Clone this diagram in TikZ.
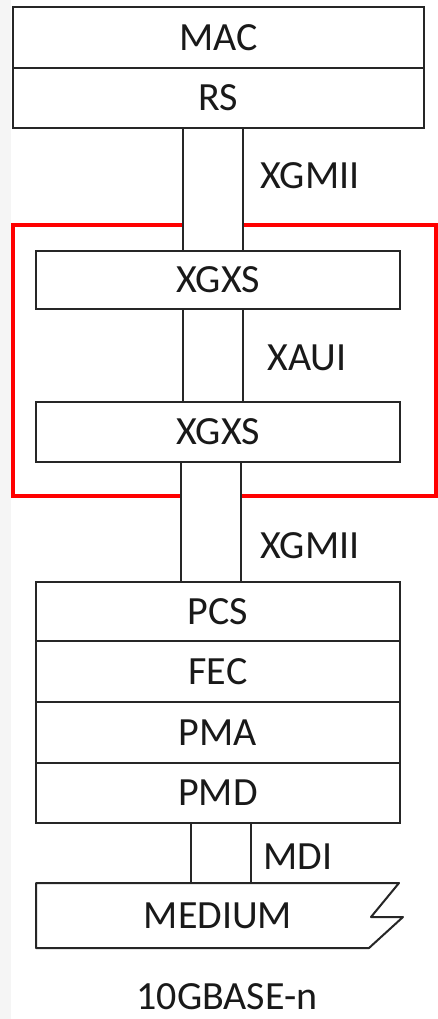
\documentclass[tikz,border=0pt]{standalone}
\usepackage{fontspec}
\setmainfont{Carlito}
\begin{document}
\begin{tikzpicture}[x=1pt,y=-1pt,
  layer/.style={draw=black!85,line width=2pt,fill=white,rectangle,inner sep=0pt,
    font=\fontsize{40}{42}\selectfont,text=black!90},
  lbl/.style={inner sep=0pt,font=\fontsize{40}{42}\selectfont,text=black!90},
  busline/.style={draw=black!85,line width=2pt},
  redbox/.style={draw=red,line width=3.5pt}]
\useasboundingbox (0,0) rectangle (438,1019);
\fill[white] (0,0) rectangle (438,1019);
\fill[black!4] (0,0) rectangle (11,1019);
% red XGXS group
\draw[redbox] (13,225) rectangle (436,496);
% layers
\node[layer,minimum width=411pt,minimum height=61pt] (mac) at (218.5,37.5) {MAC};
\node[layer,minimum width=411pt,minimum height=60pt] (rs) at (218.5,98) {RS};
\node[layer,minimum width=364pt,minimum height=58pt] (x1) at (218,280) {XGXS};
\node[layer,minimum width=364pt,minimum height=60pt] (x2) at (218,432) {XGXS};
\node[layer,minimum width=364pt,minimum height=59pt] (pcs) at (218,611.5) {PCS};
\node[layer,minimum width=364pt,minimum height=61pt] (fec) at (218,671.5) {FEC};
\node[layer,minimum width=364pt,minimum height=61pt] (pma) at (218,732.5) {PMA};
\node[layer,minimum width=364pt,minimum height=60pt] (pmd) at (218,793) {PMD};
% bus columns
\coordinate (a1) at (183,0); \coordinate (a2) at (243,0);
\coordinate (c1) at (181,0); \coordinate (c2) at (241,0);
\coordinate (d1) at (191,0); \coordinate (d2) at (251,0);
\fill[white] (rs.south -| a1) rectangle (x1.north -| a2);
\draw[busline] (rs.south -| a1) -- (x1.north -| a1);
\draw[busline] (rs.south -| a2) -- (x1.north -| a2);
\draw[busline] (x1.south -| a1) -- (x2.north -| a1);
\draw[busline] (x1.south -| a2) -- (x2.north -| a2);
\fill[white] (x2.south -| c1) rectangle (pcs.north -| c2);
\draw[busline] (x2.south -| c1) -- (pcs.north -| c1);
\draw[busline] (x2.south -| c2) -- (pcs.north -| c2);
% medium
\coordinate (m0) at (36,883);
\draw[busline,fill=white,line join=round] (m0) -- (399,883) -- (371,917) -- (403,917) -- (369,948) -- (36,948) -- cycle;
\node[lbl] (medium) at (218,916) {MEDIUM};
\draw[busline] (pmd.south -| d1) -- (m0 -| d1);
\draw[busline] (pmd.south -| d2) -- (m0 -| d2);
% labels
\node[lbl] (l1) at (310,176) {XGMII};
\node[lbl] (l2) at (307,358) {XAUI};
\node[lbl] (l3) at (310,546) {XGMII};
\node[lbl] (l4) at (298,857) {MDI};
\node[lbl] (l5) at (227,997) {10GBASE-n};
\end{tikzpicture}
\end{document}
